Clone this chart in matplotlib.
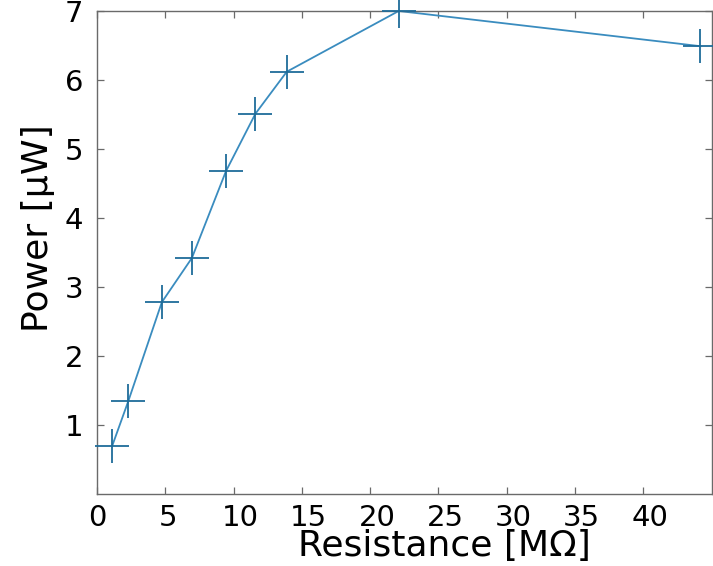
import matplotlib
matplotlib.use("Agg")
import matplotlib.pyplot as plt
from matplotlib.transforms import ScaledTranslation

resistance = [1.1, 2.3, 4.75, 6.95, 9.45, 11.6, 13.9, 22.1, 44.2]
power = [0.69, 1.35, 2.78, 3.42, 4.68, 5.51, 6.12, 7.0, 6.49]
xticks = [0, 5, 10, 15, 20, 25, 30, 35, 40]
yticks = [1, 2, 3, 4, 5, 6, 7]

W, H = 713, 566
fig = plt.figure(figsize=(W / 100, H / 100), dpi=100)
ax = fig.add_axes([97 / W, 1 - 494 / H, (712 - 97) / W, (494 - 11) / H])

ax.plot(resistance, power, color="#3a8cbf", lw=1.3, zorder=2)
ax.plot(resistance, power, ls="none", marker="+", markersize=25,
        markeredgewidth=1.3, color="#1f6c9a", clip_on=False, zorder=3)

ax.set_xlim(0, 45.05)
ax.set_ylim(0, 7)
ax.set_xticks(xticks)
ax.set_xticklabels([str(t) for t in xticks])
ax.set_yticks(yticks)
ax.set_yticklabels([str(t) for t in yticks])

for s in ax.spines.values():
    s.set_color("#6a6a6a")
    s.set_linewidth(1.0)

ax.tick_params(axis="both", direction="in", length=5, width=0.9,
               color="#6a6a6a", labelsize=21, top=True, right=True)
ax.tick_params(axis="x", pad=7)
ax.tick_params(axis="y", pad=10)

# slight rightward drift of x tick labels as in the reference
for lbl in ax.get_xticklabels():
    txt = lbl.get_text()
    dx = 0 if txt == "0" else (3 if len(txt) == 1 else 7)
    lbl.set_transform(lbl.get_transform() + ScaledTranslation(dx / 100, 0, fig.dpi_scale_trans))

fig.text(38 / W, 1 - 228 / H, "Power [μW]", rotation=90, fontsize=26,
         ha="center", va="center")
fig.text(444 / W, 1 - 546 / H, "Resistance [MΩ]", fontsize=26,
         ha="center", va="center")

fig.savefig("out.png", dpi=100)
